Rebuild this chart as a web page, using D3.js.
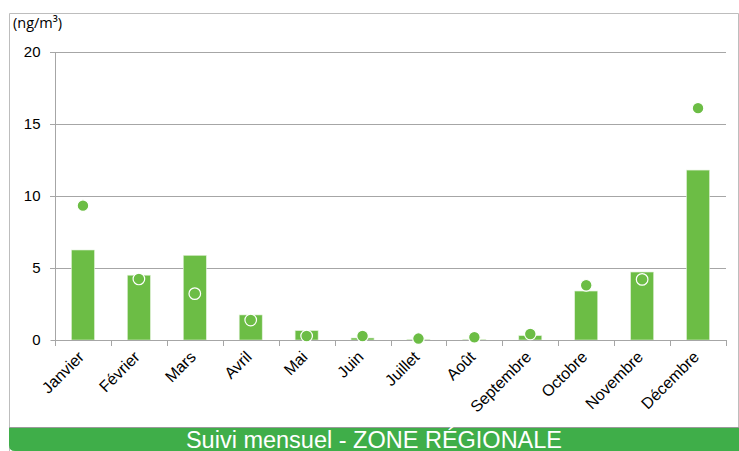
<!DOCTYPE html>
<html><head><meta charset="utf-8">
<script src="https://cdn.jsdelivr.net/npm/d3@7/dist/d3.min.js"></script>
<style>body{margin:0;background:#fff}svg{display:block}</style>
</head><body>
<svg id="c" width="739" height="451"></svg>
<script>
const months = ["Janvier","Février","Mars","Avril","Mai","Juin","Juillet","Août","Septembre","Octobre","Novembre","Décembre"];
const barValues = [6.25,4.5,5.88,1.74,0.65,0.14,0.05,0.05,0.3,3.4,4.72,11.8];
const dotValues = [9.33,4.24,3.22,1.39,0.28,0.28,0.1,0.19,0.42,3.8,4.21,16.1];
const yTicks = [0,5,10,15,20];
const unitLabel = "(ng/m³)";
const title = "Suivi mensuel - ZONE RÉGIONALE";

const svg = d3.select("#c");
const font = "'Liberation Sans', Arial, sans-serif";
const green = "#6cbd45";

// outer frame
svg.append("path").attr("d","M9.5,451 L9.5,13.5 L738.5,13.5 L738.5,451").attr("fill","none").attr("stroke","#bdbdbd");
// banner
svg.append("path").attr("d","M9,427 H739 V451 H15 Q9,451 9,445 Z").attr("fill","#3fae49");
svg.append("line").attr("x1",9).attr("x2",739).attr("y1",427.5).attr("y2",427.5).attr("stroke","#9a9a9a");
svg.append("text").attr("x",374).attr("y",447.5).attr("text-anchor","middle")
  .attr("font-family",font).attr("font-size",23.5).attr("fill","#fff").text(title);

const x = d3.scaleBand().domain(months).range([55,726]);
const y = d3.scaleLinear().domain([0,20]).range([340,52]);

// grid
svg.append("g").selectAll("line").data(yTicks.filter(d=>d>0)).join("line")
  .attr("x1",50).attr("x2",726).attr("y1",d=>y(d)+0.5).attr("y2",d=>y(d)+0.5)
  .attr("stroke","#a6a6a6").attr("stroke-width",1);
// y axis
const ya = svg.append("g").attr("transform","translate(55.5,0)")
  .call(d3.axisLeft(y).tickValues(yTicks).tickSize(5).tickPadding(10).tickFormat(d3.format("d")));
ya.select(".domain").attr("stroke","#a6a6a6").attr("d","M0,52V340");
ya.selectAll(".tick line").attr("stroke","#a6a6a6");
ya.selectAll(".tick text").attr("font-family",font).attr("font-size",15).attr("fill","#000");

svg.append("text").attr("x",13).attr("y",28).attr("font-family","'Open Sans', 'Liberation Sans', sans-serif")
  .attr("font-size",14.5).attr("fill","#000").text(unitLabel);

// bars
const bw = 23;
svg.append("g").selectAll("rect").data(months).join("rect")
  .attr("x",(d)=>x(d)+x.bandwidth()/2-bw/2).attr("width",bw)
  .attr("y",(d,i)=>y(barValues[i])).attr("height",(d,i)=>y(0)-y(barValues[i]))
  .attr("fill",green).attr("stroke","#dff0d6").attr("stroke-width",0.6);

// x axis
const xa = svg.append("g").attr("transform","translate(0,340.5)")
  .call(d3.axisBottom(x).tickSize(0).tickFormat(""));
xa.select(".domain").attr("stroke","#a6a6a6").attr("d","M55,0H726");
xa.selectAll(".tick").remove();
svg.append("g").selectAll("line").data(d3.range(months.length+1)).join("line")
  .attr("x1",i=>Math.round(55+i*x.step())+0.5).attr("x2",i=>Math.round(55+i*x.step())+0.5)
  .attr("y1",340).attr("y2",346).attr("stroke","#a6a6a6");
svg.append("g").selectAll("text").data(months).join("text")
  .attr("transform",d=>`translate(${x(d)+x.bandwidth()/2+2},${358}) rotate(-45)`)
  .attr("text-anchor","end")
  .attr("font-family",font).attr("font-size",16).attr("fill","#000").text(d=>d);

// dots
svg.append("g").selectAll("circle").data(months).join("circle")
  .attr("cx",d=>x(d)+x.bandwidth()/2).attr("cy",(d,i)=>y(dotValues[i]))
  .attr("r",5.8).attr("fill",green).attr("stroke","#fff").attr("stroke-width",1.2);
</script>
</body></html>
